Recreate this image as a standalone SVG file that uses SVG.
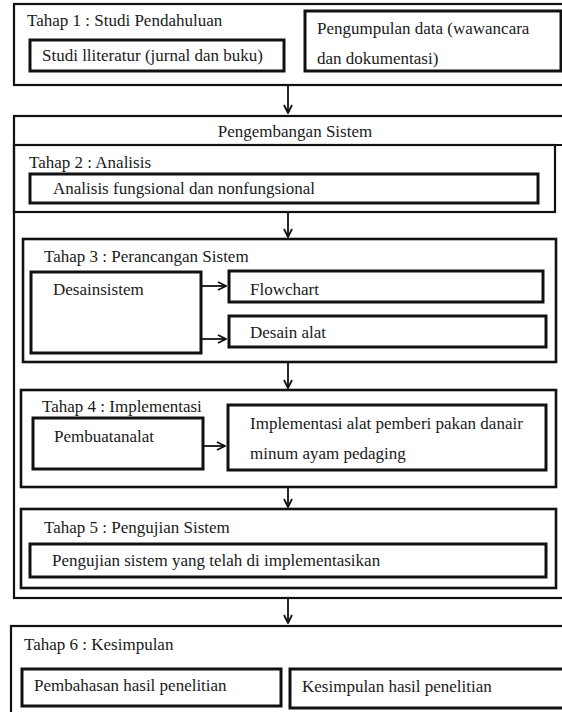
<svg xmlns="http://www.w3.org/2000/svg" width="562" height="712" viewBox="0 0 562 712" font-family="Liberation Serif, Times New Roman, serif" font-size="17">
<style>
.t{fill:#1a1a1a}
.o{fill:none;stroke:#111;stroke-width:2.2}
.i{fill:#fff;stroke:#111;stroke-width:3}
.m{fill:none;stroke:#111;stroke-width:2.6}
.c{fill:none;stroke:#111;stroke-width:1.8}
</style>
<defs>
<marker id="ah" markerWidth="10" markerHeight="10" refX="9" refY="5" orient="auto" markerUnits="userSpaceOnUse">
<path d="M1,1 L9,5 L1,9" fill="none" stroke="#111" stroke-width="1.8"/>
</marker>
</defs>
<rect width="562" height="712" fill="#fff"/>
<g id="tahap1">
<rect class="o" x="14" y="4" width="560" height="81"/>
<text class="t" x="27" y="26">Tahap 1 : Studi Pendahuluan</text>
</g>
<g id="studi">
<rect class="i" x="30" y="40" width="254" height="31"/>
<text class="t" x="42" y="61">Studi lliteratur (jurnal dan buku)</text>
</g>
<g id="pengumpulan">
<rect class="i" x="305" y="11" width="256" height="60"/>
<text class="t" x="317" y="34">Pengumpulan data (wawancara</text>
<text class="t" x="317" y="64">dan dokumentasi)</text>
</g>
<g id="pengembangan">
<rect class="o" x="14" y="116" width="560" height="482"/>
<line class="o" x1="14" y1="145" x2="562" y2="145"/>
<text class="t" x="295" y="137" text-anchor="middle">Pengembangan Sistem</text>
</g>
<g id="tahap2">
<rect class="o" x="14" y="145" width="541" height="67"/>
<text class="t" x="29" y="168">Tahap 2 : Analisis</text>
</g>
<g id="analisis">
<rect class="i" x="30" y="174" width="508" height="29"/>
<text class="t" x="53" y="194">Analisis fungsional dan nonfungsional</text>
</g>
<g id="tahap3">
<rect class="m" x="23" y="239" width="533" height="123"/>
<text class="t" x="44" y="262">Tahap 3 : Perancangan Sistem</text>
</g>
<g id="desainsistem">
<rect class="i" x="31" y="272" width="170" height="81"/>
<text class="t" x="53" y="295">Desainsistem</text>
</g>
<g id="flowchart">
<rect class="i" x="229" y="271" width="314" height="31"/>
<text class="t" x="250" y="295">Flowchart</text>
</g>
<g id="desainalat">
<rect class="i" x="229" y="316" width="317" height="31"/>
<text class="t" x="250" y="338">Desain alat</text>
</g>
<g id="tahap4">
<rect class="m" x="21" y="390" width="535" height="97"/>
<text class="t" x="42" y="412">Tahap 4 : Implementasi</text>
</g>
<g id="pembuatan">
<rect class="i" x="33" y="418" width="170" height="51"/>
<text class="t" x="54" y="442">Pembuatanalat</text>
</g>
<g id="implementasi">
<rect class="i" x="228" y="405" width="318" height="65"/>
<text class="t" x="250" y="429">Implementasi alat pemberi pakan danair</text>
<text class="t" x="250" y="459">minum ayam pedaging</text>
</g>
<g id="tahap5">
<rect class="m" x="21" y="509" width="535" height="79"/>
<text class="t" x="44" y="533">Tahap 5 : Pengujian Sistem</text>
</g>
<g id="pengujian">
<rect class="i" x="30" y="544" width="516" height="33"/>
<text class="t" x="52" y="566">Pengujian sistem yang telah di implementasikan</text>
</g>
<g id="tahap6">
<rect class="o" x="11" y="626" width="570" height="100"/>
<text class="t" x="24" y="650">Tahap 6 : Kesimpulan</text>
</g>
<g id="pembahasan">
<rect class="i" x="22" y="669" width="259" height="37"/>
<text class="t" x="34" y="691">Pembahasan hasil penelitian</text>
</g>
<g id="kesimpulan">
<rect class="i" x="290" y="669" width="280" height="39"/>
<text class="t" x="302" y="692">Kesimpulan hasil penelitian</text>
</g>
<g id="connectors">
<line class="c" x1="288" y1="86" x2="288" y2="113" marker-end="url(#ah)"/>
<line class="c" x1="288" y1="213" x2="288" y2="237" marker-end="url(#ah)"/>
<line class="c" x1="202" y1="286" x2="226" y2="286" marker-end="url(#ah)"/>
<line class="c" x1="202" y1="339" x2="226" y2="339" marker-end="url(#ah)"/>
<line class="c" x1="288" y1="363" x2="288" y2="388" marker-end="url(#ah)"/>
<line class="c" x1="204" y1="446" x2="225" y2="446" marker-end="url(#ah)"/>
<line class="c" x1="288" y1="488" x2="288" y2="507" marker-end="url(#ah)"/>
<line class="c" x1="288" y1="599" x2="288" y2="623" marker-end="url(#ah)"/>
</g>
</svg>
